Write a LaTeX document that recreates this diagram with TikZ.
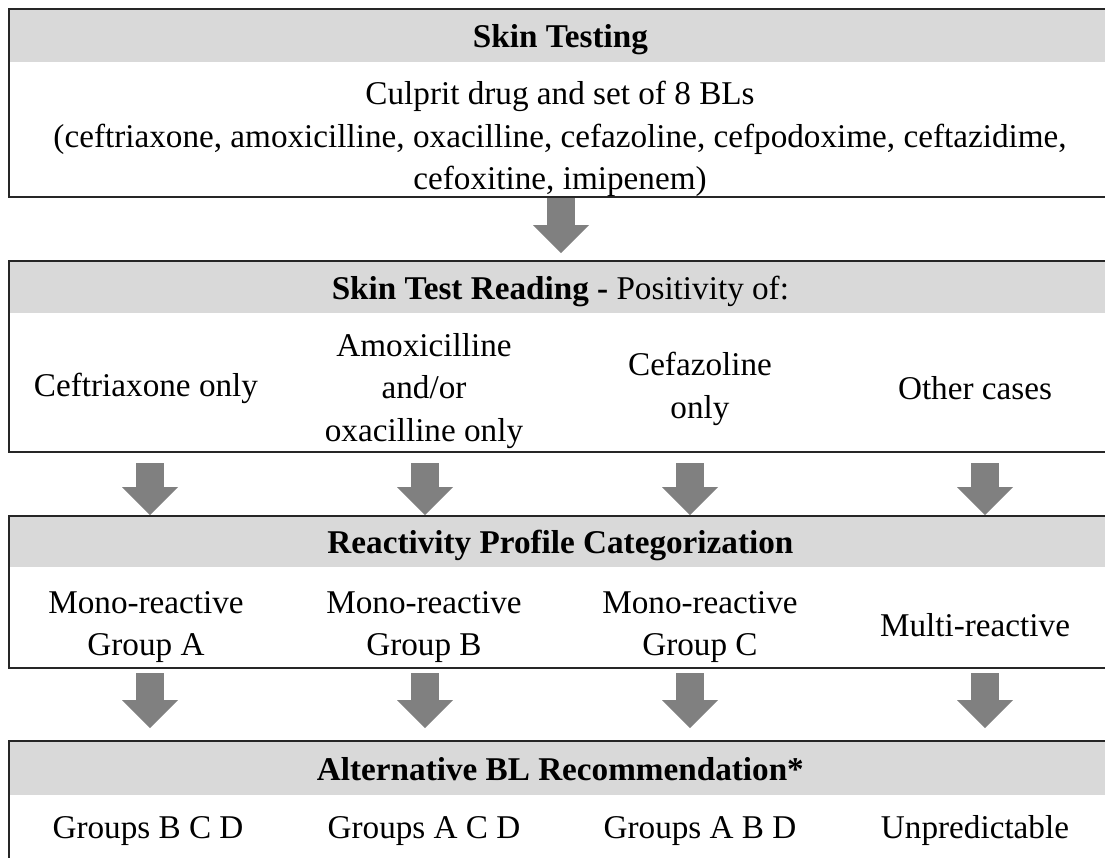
\documentclass[tikz,border=0pt]{standalone}
\usepackage{fontspec}
\setmainfont{Liberation Serif}
\usepackage{tikz}
\usetikzlibrary{arrows.meta}
\definecolor{headgray}{RGB}{217,217,217}
\definecolor{arrowgray}{RGB}{128,128,128}

\begin{document}
\begin{tikzpicture}[x=0.5pt, y=-0.5pt,
  every node/.style={font=\fontsize{16.6}{21.2}\selectfont, align=center, inner sep=0pt},
  head/.style={fill=headgray, anchor=north west, minimum width=552pt, minimum height=#1,
    text height=16pt, text depth=3.5pt},
  stage/.style={draw=black!85, line width=1pt, anchor=north west, minimum width=552pt, minimum height=#1},
  bigarrow/.style={draw=arrowgray, line width=14pt, -{Triangle[width=28pt, length=14pt, line width=0pt]}}]
\useasboundingbox (0,0) rectangle (1105,858);
% Boxes
\node[head=27pt] (testing-h) at (8,8) {\bfseries Skin Testing};
\node[stage=94pt] (testing) at (8,8) {};
\node[head=26.5pt] (reading-h) at (8,260) {{\bfseries Skin Test Reading -} Positivity of:};
\node[stage=95.5pt] (reading) at (8,260) {};
\node[head=26pt] (profile-h) at (8,515) {\bfseries Reactivity Profile Categorization};
\node[stage=76pt] (profile) at (8,515) {};
\node[head=27.5pt] (advice-h) at (8,740) {\bfseries Alternative BL Recommendation*};
\node[stage=70pt] (advice) at (8,740) {};
% Texts
\node (drugs) at (560,139) {Culprit drug and set of 8 BLs\\(ceftriaxone, amoxicilline, oxacilline, cefazoline, cefpodoxime, ceftazidime,\\cefoxitine, imipenem)};
\node (cro) at (146,388) {Ceftriaxone only};
\node (amx) at (424,391) {Amoxicilline\\and/or\\oxacilline only};
\node (cfz) at (700,389) {Cefazoline\\only};
\node (other) at (975,388) {Other cases};
\node (monoA) at (146,627) {Mono-reactive\\Group A};
\node (monoB) at (424,627) {Mono-reactive\\Group B};
\node (monoC) at (700,627) {Mono-reactive\\Group C};
\node (multi) at (975,625) {Multi-reactive};
\node (altA) at (148,831) {Groups B C D};
\node (altB) at (424,831) {Groups A C D};
\node (altC) at (700,831) {Groups A B D};
\node (altD) at (975,831) {Unpredictable};
% Arrows
\coordinate (c1) at (150,0);
\coordinate (c2) at (425,0);
\coordinate (c3) at (690,0);
\coordinate (c4) at (985,0);
\draw[bigarrow, shorten >=3.5pt] (testing.south) -- (reading.north);
\foreach \c in {c1,c2,c3,c4} {
  \draw[bigarrow, shorten <=5pt] (\c |- reading.south) -- (\c |- profile.north);
  \draw[bigarrow, shorten <=2pt, shorten >=6pt] (\c |- profile.south) -- (\c |- advice.north);
}
\end{tikzpicture}
\end{document}
